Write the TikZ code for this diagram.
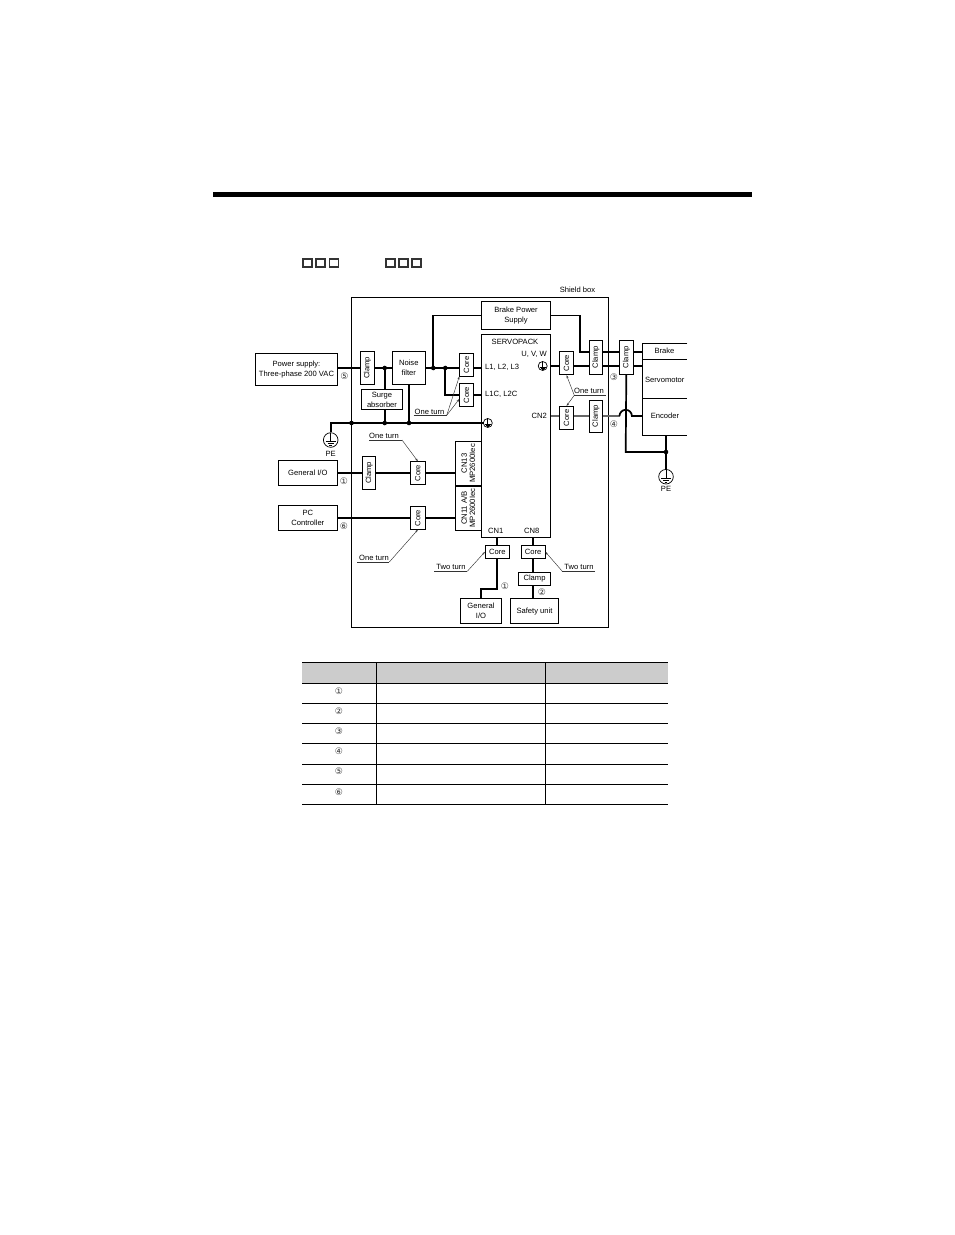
\documentclass[tikz,border=0pt]{standalone}
\usepackage{fontspec}
\setmainfont{Liberation Sans}
\newfontfamily\circfont{DejaVu Sans}
\usetikzlibrary{arrows.meta}
\tikzset{
  bx/.style={draw=black,line width=.8pt,fill=white,inner sep=0pt,align=center,font=\fontsize{7.6}{10}\selectfont},
  rot/.style={rotate=90},
  lbl/.style={inner sep=0pt,font=\fontsize{7.6}{10}\selectfont},
  wire/.style={draw=black,line width=1.7pt},
  greywire/.style={draw=black!60,line width=1.7pt},
  thinline/.style={draw=black!80,line width=.45pt},
  pointer/.style={thinline,-{Stealth[length=3pt,width=2pt]}},
  jdot/.style={circle,fill=black,inner sep=0pt,minimum size=4.6pt},
  num/.style={inner sep=0pt,text=black!80,font=\circfont\fontsize{9}{9}\selectfont},
  gcirc/.style={circle,draw=black,line width=.7pt,fill=white,inner sep=0pt},
  sq/.style={draw=black!80,line width=1.5pt},
  grid/.style={draw=black,line width=.8pt},
  gndsym/.pic={
    \draw[black,line width=.7pt] (0,-7.3) -- (0,1.5);
    \draw[black,line width=.7pt] (-5,1.5) -- (5,1.5) (-3,3.5) -- (3,3.5) (-1.4,5.5) -- (1.4,5.5);
  }
}
\newcommand{\bxat}[7][]{%
  \pgfmathsetmacro{\cxx}{(#3+#5)/2}\pgfmathsetmacro{\cyy}{(#4+#6)/2}%
  \pgfmathsetmacro{\wdd}{#5-#3}\pgfmathsetmacro{\htt}{#6-#4}%
  \ifx\relax#1\relax
    \node[bx,minimum width=\wdd pt,minimum height=\htt pt] (#2) at (\cxx,\cyy) {#7};
  \else
    \node[bx,minimum width=\htt pt,minimum height=\wdd pt,#1] (#2) at (\cxx,\cyy) {#7};
  \fi}
\begin{document}
\begin{tikzpicture}[x=1pt,y=-1pt]
\useasboundingbox (0,0) rectangle (954,1235);
% page header
\fill[black] (213,192) rectangle (751.5,197);
\foreach \a/\b in {303/312,316/325,329.4/338.4,386/394.8,399/407.8,412/420.8}
  \draw[sq] (\a,258.8) rectangle (\b,267.2);
% shield box
\node[draw=black,line width=.8pt,inner sep=0pt,minimum width=257pt,minimum height=329.7pt] (shield) at (479.8,462.2) {};
\node[lbl] (shieldl) at (577.5,289.5) {Shield box};
% coordinates
\coordinate (j1) at (384.7,368);
\coordinate (j2) at (433.3,368);
\coordinate (j3) at (445.3,368);
\coordinate (g1) at (351.5,423);
\coordinate (g2) at (384.7,423);
\coordinate (g3) at (409,423);
\coordinate (g4) at (666,452);
% boxes
\bxat{ps}{255.3}{353.7}{337.7}{385.3}{Power supply:\\Three-phase 200 VAC}
\bxat[]{nf}{392.3}{351.3}{425.3}{384.3}{Noise\\filter}
\bxat{sa}{361.3}{389.3}{402.7}{409.7}{Surge\\absorber}
\bxat[rot]{cl1}{360.3}{351.3}{374.3}{384.3}{Clamp}
\bxat[rot]{cl}{459.3}{353.3}{473.7}{376.3}{Core}
\bxat[rot]{clc}{459.3}{383.3}{473.7}{406.7}{Core}
\bxat{bp}{481.3}{301.7}{550.7}{329.3}{Brake Power\\Supply}
\bxat{sp}{481.3}{334.3}{550.7}{537.3}{}
\bxat[rot]{cu}{559.3}{351.3}{573.7}{374.7}{Core}
\bxat[rot]{cm2}{589.3}{340.3}{602.7}{374.3}{Clamp}
\bxat[rot]{cm3}{619.3}{340.3}{633.3}{374.3}{Clamp}
\bxat[rot]{cc}{559.3}{406.3}{573.7}{429.3}{Core}
\bxat[rot]{cm4}{589.3}{400}{602.7}{432.3}{Clamp}
\bxat{gio}{278.3}{460.3}{337.3}{485}{General I/O}
\bxat[rot]{cm5}{362.7}{456.3}{375.7}{489.3}{Clamp}
\bxat[rot]{c13}{410.7}{461.7}{425}{484.3}{Core}
\bxat{pc}{278.3}{505.3}{337.3}{530}{PC\\Controller}
\bxat[rot]{c11}{410.7}{506.7}{425}{529.3}{Core}
\bxat[rot,font=\fontsize{7.7}{8.3}\selectfont]{cn13}{455.3}{441.3}{481.3}{485.7}{CN13\\MP2600Iec}
\bxat[rot,font=\fontsize{7.7}{8.3}\selectfont]{cn11}{455.3}{485.7}{481.3}{530.3}{CN11 A/B\\MP2600Iec}
\bxat{c1}{485.3}{545}{509.3}{558.7}{Core}
\bxat{c8}{521.3}{545}{545}{558.7}{Core}
\bxat{cm8}{518.7}{572.3}{550.3}{585.7}{Clamp}
\bxat{gio2}{460.7}{598.7}{501.3}{623.8}{General\\I/O}
\bxat{su}{510.7}{598.7}{558.3}{623.8}{Safety unit}
% motor (open on the right)
\coordinate (mnw) at (642.3,343.3);
\coordinate (msw) at (642.3,435.3);
\coordinate (mne) at (687.3,343.3);
\coordinate (mse) at (687.3,435.3);
\coordinate (mbl) at (642.3,359.3);
\coordinate (mbr) at (687.3,359.3);
\coordinate (mel) at (642.3,398.3);
\coordinate (mer) at (687.3,398.3);
\draw[grid] (mne) -- (mnw) -- (msw) -- (mse) (mbl) -- (mbr) (mel) -- (mer);
\node[lbl] (brake) at (664.5,350.5) {Brake};
\node[lbl] (servo) at (664.8,379.5) {Servomotor};
\node[lbl] (enc) at (665,416) {Encoder};
% ground symbols
\node[gcirc,minimum size=14.6pt] (pe1) at (330.7,440) {};
\pic at (pe1.center) {gndsym};
\node[gcirc,minimum size=14.6pt] (pe2) at (666,476.7) {};
\pic at (pe2.center) {gndsym};
\node[gcirc,minimum size=9pt] (gs1) at (487.8,423) {};
\pic[scale=.62] at (gs1.center) {gndsym};
\node[gcirc,minimum size=9pt] (gs2) at (542.7,366) {};
\pic[scale=.62] at (gs2.center) {gndsym};
% thick wires, left side
\draw[wire] (ps.east |- j1) -- (cl1.north |- j1);
\draw[wire] (cl1.south |- j1) -- (nf.west |- j1);
\draw[wire] (nf.east |- j1) -- (cl.north |- j1);
\draw[wire] (cl.south |- j1) -- (sp.west |- j1);
\draw[wire] (j2) |- (bp.west);
\draw[wire] (j3) |- (clc.north);
\draw[wire] (clc.south) -- (sp.west |- clc.south);
\draw[wire] (j1) -- (sa.north -| j1);
\draw[wire] (sa.south -| g2) -- (g2);
\draw[wire] (nf.south -| g3) -- (g3);
\draw[wire] (pe1.north) |- (g1) -- (g2) -- (g3) -- (gs1.west);
% signal wires
\draw[wire] (gio.east |- c13.center) -- (cm5.north |- c13.center);
\draw[wire] (cm5.south |- c13.center) -- (c13.north);
\draw[wire] (c13.south) -- (cn13.north |- c13.center);
\draw[wire] (pc.east |- c11.center) -- (c11.north);
\draw[wire] (c11.south) -- (cn11.north |- c11.center);
\draw[black,line width=1.5pt] (cn13.south west) -- (cn13.north west);
% bottom wires
\coordinate (w1) at (480.7,588.7);
\draw[wire] (c1.north) -- (sp.south -| c1.north);
\draw[wire] (c8.north) -- (sp.south -| c8.north);
\draw[wire] (c8.south) -- (cm8.north -| c8.south);
\draw[wire] (cm8.south -| c8.south) -- (su.north -| c8.south);
\draw[wire] (c1.south) |- (w1) -- (gio2.north -| w1);
% right wires
\coordinate (wb) at (580,352);
\coordinate (wu) at (550.7,366);
\coordinate (we) at (625.7,416);
\draw[wire] (bp.east) -| (wb) -- (cm2.north |- wb);
\draw[wire] (cm2.south |- wb) -- (cm3.north |- wb);
\draw[wire] (cm3.south |- wb) -- (mnw |- wb);
\draw[wire] (wu) -- (cu.north |- wu);
\draw[wire] (cu.south |- wu) -- (cm2.north |- wu);
\draw[wire] (cm2.south |- wu) -- (cm3.north |- wu);
\draw[wire] (cm3.south |- wu) -- (mnw |- wu);
\draw[greywire] (sp.east |- we) -- (cc.north |- we);
\draw[greywire] (cc.south |- we) -- (cm4.north |- we);
\draw[wire] (cm3.west) -- (625.7,452) -- (g4);
\draw[wire] (msw -| g4) -- (pe2.north);
\draw[greywire] (cm4.south |- we) -- (619.5,416);
\draw[wire] (619.5,416) arc[start angle=180,end angle=0,radius=6.2pt] -- (mel |- we);
% junction dots
\foreach \n in {j1,j2,j3,g1,g2,g3,g4} \node[jdot] (d\n) at (\n) {};
% servopack labels
\node[lbl] (spack) at (515,341.5) {SERVOPACK};
\node[lbl,anchor=east] (uvw) at (547,354.5) {U, V, W};
\node[lbl,anchor=west] (l1) at (485,367.5) {L1, L2, L3};
\node[lbl,anchor=west] (l1c) at (485,394.5) {L1C, L2C};
\node[lbl,anchor=east] (cn2) at (547,415.5) {CN2};
\node[lbl] (cn1) at (495.7,531) {CN1};
\node[lbl] (cn8) at (531.7,531) {CN8};
\node[lbl] (pel1) at (330.7,453.5) {PE};
\node[lbl] (pel2) at (666,488.5) {PE};
% numbers
\node[num] (n5) at (344.5,376) {⑤};
\node[num] (n1) at (344,481) {①};
\node[num] (n6) at (344,526) {⑥};
\node[num] (n3) at (614,377) {③};
\node[num] (n4) at (614,424.3) {④};
\node[num] (n1b) at (505,586) {①};
\node[num] (n2) at (542,592) {②};
% one turn / two turn call-outs
\node[lbl] (ot1) at (429.5,411.5) {One turn};
\coordinate (a1) at (413.7,415.3);\coordinate (a2) at (446.7,415.3);
\coordinate (a3) at (459.3,376.5);\coordinate (a4) at (459.3,399);
\draw[thinline] (a1) -- (a2);
\draw[pointer] (a2) -- (a3);
\draw[pointer] (a2) -- (a4);
\node[lbl] (ot2) at (384,436) {One turn};
\coordinate (b1) at (369,440);\coordinate (b2) at (402,440);
\draw[thinline] (b1) -- (b2);
\draw[pointer] (b2) -- (c13.east);
\node[lbl] (ot3) at (374,557.5) {One turn};
\coordinate (c1a) at (357.3,562);\coordinate (c2a) at (389.3,562);
\draw[thinline] (c1a) -- (c2a);
\draw[pointer] (c2a) -- (c11.west);
\node[lbl] (ot4) at (589,390.5) {One turn};
\coordinate (e1) at (605.7,395.3);\coordinate (e2) at (574.3,395.3);
\draw[thinline] (e1) -- (e2);
\draw[pointer] (e2) -- (cu.west);
\draw[pointer] (e2) -- (cc.east);
\node[lbl] (tt1) at (451,566.5) {Two turn};
\coordinate (f1) at (434,571.3);\coordinate (f2) at (467.3,571.3);
\draw[thinline] (f1) -- (f2);
\draw[pointer] (f2) -- (c1.west);
\node[lbl] (tt2) at (579,566.5) {Two turn};
\coordinate (h1) at (595,571.3);\coordinate (h2) at (562.3,571.3);
\draw[thinline] (h1) -- (h2);
\draw[pointer] (h2) -- (c8.east);
% table
\fill[black!20] (302.3,662.3) rectangle (667.7,683.3);
\foreach \y in {662.3,683.3,703.7,723.3,743.3,764,784.3,804.3}
  \draw[grid] (302.3,\y) -- (667.7,\y);
\draw[grid] (376.3,662.3) -- (376.3,804.3);
\draw[grid] (545.3,662.3) -- (545.3,804.3);
\node[num] (t1) at (339,691) {①};
\node[num] (t2) at (339,711) {②};
\node[num] (t3) at (339,731) {③};
\node[num] (t4) at (339,751) {④};
\node[num] (t5) at (339,771.5) {⑤};
\node[num] (t6) at (339,792) {⑥};
\end{tikzpicture}
\end{document}
